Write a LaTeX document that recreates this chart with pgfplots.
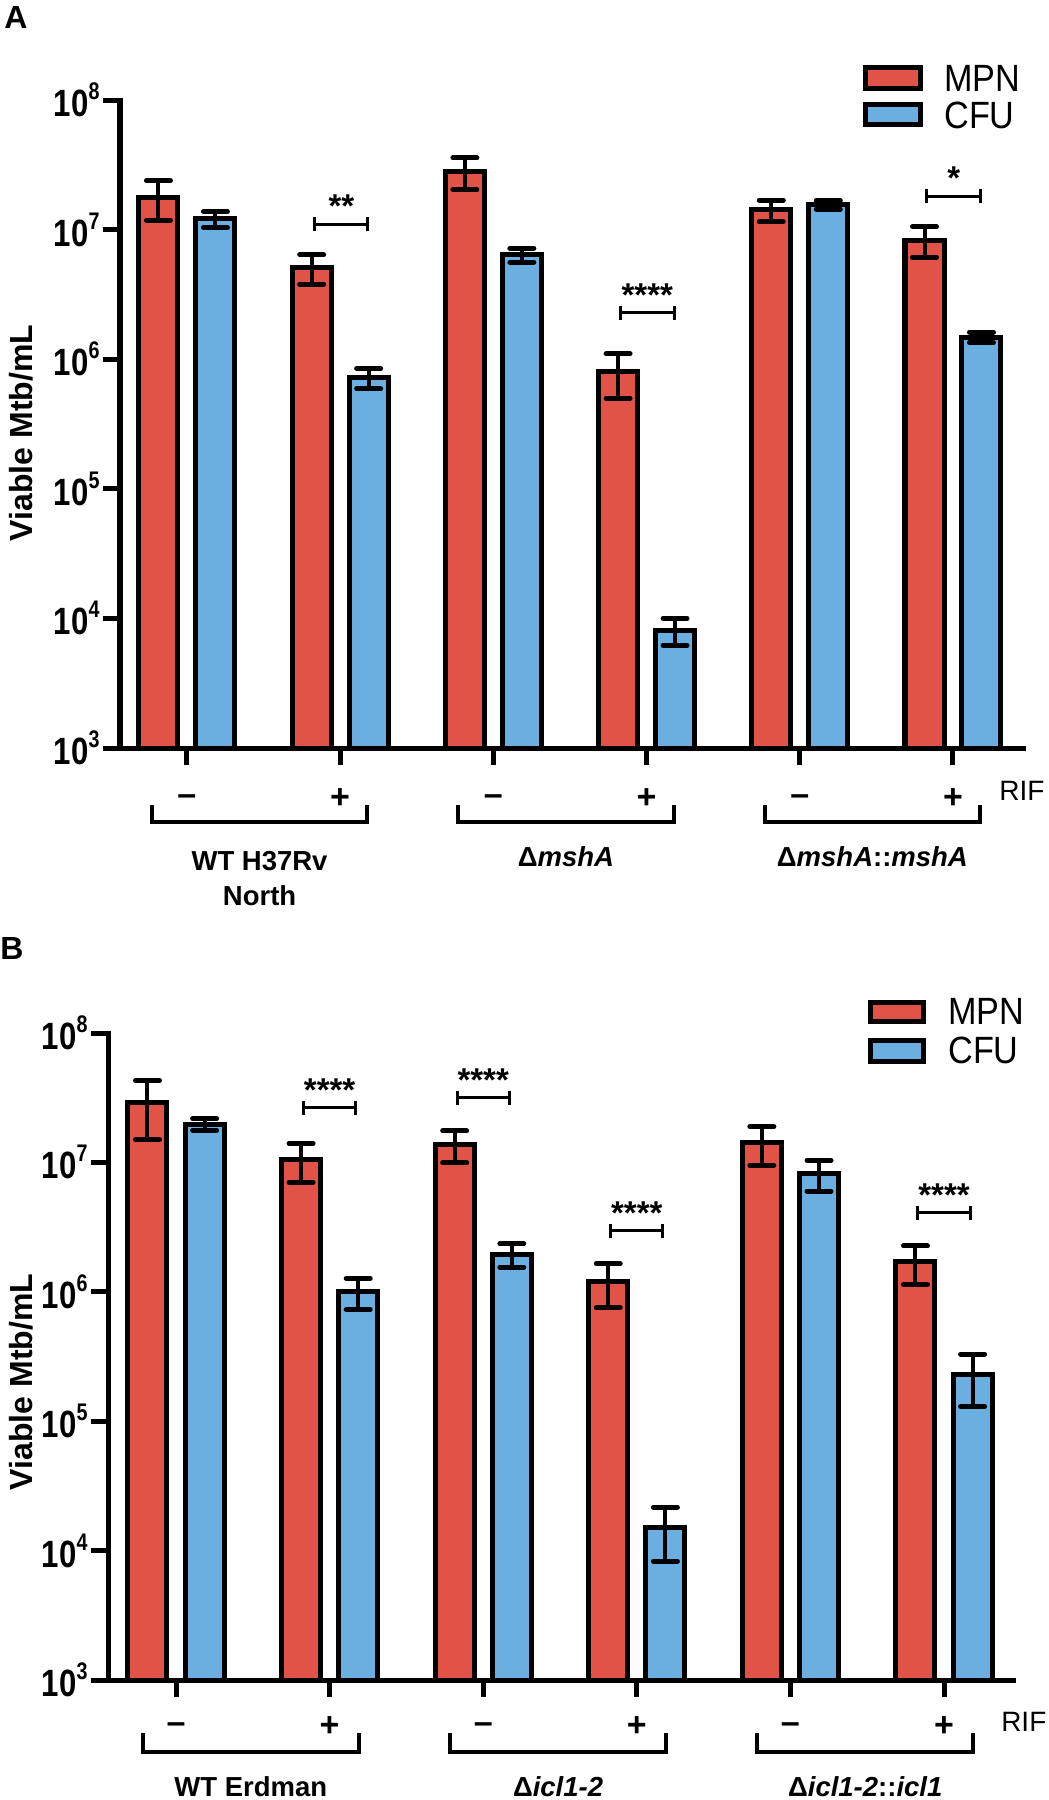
\documentclass[border=0pt]{standalone}
\usepackage{fontspec}
\setmainfont{Liberation Sans}
\newfontfamily\condfont{Liberation Sans}[FakeStretch=0.82]
\newfontfamily\legfont{Liberation Sans}[FakeStretch=0.9]
\usepackage{pgfplots}
\pgfplotsset{compat=1.18}
\definecolor{mpn}{HTML}{E15346}
\definecolor{cfu}{HTML}{6AAFDF}

\newcommand{\dec}[1]{10\raisebox{8.5pt}{\fontsize{12}{12}\selectfont #1}}
\newcommand{\sig}[5]{%
  \draw[line width=1.5pt] ([yshift=3.5pt]axis cs:#1,#3) -- ([yshift=-3.5pt]axis cs:#1,#3)
     (axis cs:#1,#3) -- (axis cs:#2,#3)
     ([yshift=3.5pt]axis cs:#2,#3) -- ([yshift=-3.5pt]axis cs:#2,#3);
  \node[font=\fontsize{16.5}{16.5}\selectfont\bfseries, anchor=base, inner sep=0pt] at ([yshift=3.2pt]axis cs:#4,#3) {#5};}
\newcommand{\ytl}[2]{\node[anchor=east, inner sep=0pt, font=\condfont\fontsize{19}{19}\selectfont\bfseries] at ([xshift=-10pt]axis cs:#1,1e#2) {\dec{#2}};}
\newcommand{\sgn}[3]{\node[anchor=base, inner sep=0pt, font=\fontsize{17}{17}\selectfont\bfseries] at ([yshift=#2]axis cs:#1,1e3) {#3};}

\pgfplotsset{
  errstyle/.style={error bars/.cd, y dir=both, y explicit,
    error bar style={line width=2pt, black},
    error mark=|,
    error mark options={line width=2.5pt, mark size=6pt, black, line cap=round}},
}

\begin{document}
\begin{tikzpicture}
\useasboundingbox (0,0) rectangle (524.5pt,-900pt);

% ---------------- Panel A ----------------
\begin{axis}[at={(60pt,-374pt)}, anchor=south west,
  scale only axis, width=451.5pt, height=324pt, xmin=-0.437, xmax=5.457,
  ymode=log, log origin=infty, ymin=1e3, ymax=1e8,
  axis x line=bottom, axis y line=left,
  axis line style={line width=2.5pt, -, line cap=rect},
  tick align=outside, major tick length=8.5pt,
  major tick style={line width=2.5pt, black},
  ytick={1e3,1e4,1e5,1e6,1e7,1e8}, yminorticks=false,
  xtick={0,1,2,3,4,5}, xticklabels={}, yticklabels={},
  clip=false]
\addplot[ybar, bar width=19.5pt, bar shift=0pt, fill=mpn, draw=black, line width=2.5pt, errstyle]
 table[x=x, y=y, y error=e] {
x y e
-0.186 1.78e7 0.60e7
0.814 5.1e6 1.3e6
1.814 2.8e7 0.77e7
2.814 8.0e5 3.0e5
3.814 1.42e7 0.27e7
4.814 8.3e6 2.2e6
};
\addplot[ybar, bar width=19.5pt, bar shift=0pt, fill=cfu, draw=black, line width=2.5pt, errstyle]
 table[x=x, y=y, y error=e] {
x y e
0.186 1.21e7 0.17e7
1.186 7.2e5 1.3e5
2.186 6.4e6 0.8e6
3.186 8.1e3 1.9e3
4.186 1.56e7 0.12e7
5.186 1.48e6 0.14e6
};
\sig{0.835}{1.181}{1.104e7}{1.008}{**}
\sig{2.83}{3.18}{2.275e6}{3.005}{****}
\sig{4.83}{5.18}{1.815e7}{5.005}{*}
\ytl{-0.437}{3}\ytl{-0.437}{4}\ytl{-0.437}{5}\ytl{-0.437}{6}\ytl{-0.437}{7}\ytl{-0.437}{8}
\sgn{0}{-28.5pt}{--}\sgn{2}{-28.5pt}{--}\sgn{4}{-28.5pt}{--}
\sgn{1}{-30pt}{+}\sgn{3}{-30pt}{+}\sgn{5}{-30pt}{+}
\draw[line width=2pt] ([yshift=-28.5pt]axis cs:-0.228,1e3) |- ([yshift=-37pt]axis cs:1.176,1e3) -- ([yshift=-28.5pt]axis cs:1.176,1e3);
\draw[line width=2pt] ([yshift=-28.5pt]axis cs:1.772,1e3) |- ([yshift=-37pt]axis cs:3.176,1e3) -- ([yshift=-28.5pt]axis cs:3.176,1e3);
\draw[line width=2pt] ([yshift=-28.5pt]axis cs:3.772,1e3) |- ([yshift=-37pt]axis cs:5.176,1e3) -- ([yshift=-28.5pt]axis cs:5.176,1e3);
\node[anchor=west, inner sep=0pt, font=\fontsize{14}{14}\selectfont] at ([yshift=-21.5pt]axis cs:5.30,1e3) {RIF};
\node[anchor=base, inner sep=0pt, font=\fontsize{13.75}{13.75}\selectfont\bfseries] at ([yshift=-61pt]axis cs:0.474,1e3) {WT H37Rv};
\node[anchor=base, inner sep=0pt, font=\fontsize{13.75}{13.75}\selectfont\bfseries] at ([yshift=-78.5pt]axis cs:0.474,1e3) {North};
\node[anchor=base, inner sep=0pt, font=\fontsize{13.75}{13.75}\selectfont\bfseries] at ([yshift=-59pt]axis cs:2.474,1e3) {Δ\textit{mshA}};
\node[anchor=base, inner sep=0pt, font=\fontsize{13.75}{13.75}\selectfont\bfseries] at ([yshift=-59pt]axis cs:4.474,1e3) {Δ\textit{mshA}::\textit{mshA}};
\end{axis}

\draw[line width=2.5pt, fill=mpn] (432.75pt,-33.75pt) rectangle (460.25pt,-44.25pt);
\draw[line width=2.5pt, fill=cfu] (432.75pt,-52.25pt) rectangle (460.25pt,-62.25pt);
\node[anchor=west, inner sep=0pt, font=\legfont\fontsize{19}{19}\selectfont] at (472pt,-39pt) {MPN};
\node[anchor=west, inner sep=0pt, font=\legfont\fontsize{19}{19}\selectfont] at (472pt,-57.5pt) {CFU};
\node[rotate=90, inner sep=0pt, font=\fontsize{16}{16}\selectfont\bfseries] at (10.75pt,-216.5pt) {Viable Mtb/mL};
\node[anchor=north west, inner sep=0pt, font=\fontsize{16}{16}\selectfont\bfseries] at (2pt,-3pt) {A};

% ---------------- Panel B ----------------
\begin{axis}[at={(54pt,-840pt)}, anchor=south west,
  scale only axis, width=452.5pt, height=323.5pt, xmin=-0.443, xmax=5.449,
  ymode=log, log origin=infty, ymin=1e3, ymax=1e8,
  axis x line=bottom, axis y line=left,
  axis line style={line width=2.5pt, -, line cap=rect},
  tick align=outside, major tick length=8.5pt,
  major tick style={line width=2.5pt, black},
  ytick={1e3,1e4,1e5,1e6,1e7,1e8}, yminorticks=false,
  xtick={0,1,2,3,4,5}, xticklabels={}, yticklabels={},
  clip=false]
\addplot[ybar, bar width=19.5pt, bar shift=0pt, fill=mpn, draw=black, line width=2.5pt, errstyle]
 table[x=x, y=y, y error=e] {
x y e
-0.186 2.9e7 1.4e7
0.814 1.05e7 3.5e6
1.814 1.37e7 3.8e6
2.814 1.2e6 4.5e5
3.814 1.42e7 4.7e6
4.814 1.7e6 5.6e5
};
\addplot[ybar, bar width=19.5pt, bar shift=0pt, fill=cfu, draw=black, line width=2.5pt, errstyle]
 table[x=x, y=y, y error=e] {
x y e
0.186 1.98e7 0.2e7
1.186 1.0e6 2.7e5
2.186 1.95e6 4.0e5
3.186 1.5e4 6.7e3
4.186 8.2e6 2.2e6
5.186 2.3e5 1.0e5
};
\sig{0.83}{1.17}{2.64e7}{1.0}{****}
\sig{1.83}{2.17}{3.15e7}{2.0}{****}
\sig{2.83}{3.17}{2.96e6}{3.0}{****}
\sig{4.83}{5.17}{4.07e6}{5.0}{****}
\ytl{-0.443}{3}\ytl{-0.443}{4}\ytl{-0.443}{5}\ytl{-0.443}{6}\ytl{-0.443}{7}\ytl{-0.443}{8}
\sgn{0}{-26.5pt}{--}\sgn{2}{-26.5pt}{--}\sgn{4}{-26.5pt}{--}
\sgn{1}{-28pt}{+}\sgn{3}{-28pt}{+}\sgn{5}{-28pt}{+}
\draw[line width=2pt] ([yshift=-26.5pt]axis cs:-0.215,1e3) |- ([yshift=-36pt]axis cs:1.19,1e3) -- ([yshift=-26.5pt]axis cs:1.19,1e3);
\draw[line width=2pt] ([yshift=-26.5pt]axis cs:1.785,1e3) |- ([yshift=-36pt]axis cs:3.19,1e3) -- ([yshift=-26.5pt]axis cs:3.19,1e3);
\draw[line width=2pt] ([yshift=-26.5pt]axis cs:3.785,1e3) |- ([yshift=-36pt]axis cs:5.19,1e3) -- ([yshift=-26.5pt]axis cs:5.19,1e3);
\node[anchor=west, inner sep=0pt, font=\fontsize{14}{14}\selectfont] at ([yshift=-21pt]axis cs:5.37,1e3) {RIF};
\node[anchor=base, inner sep=0pt, font=\fontsize{13.75}{13.75}\selectfont\bfseries] at ([yshift=-58pt]axis cs:0.487,1e3) {WT Erdman};
\node[anchor=base, inner sep=0pt, font=\fontsize{13.75}{13.75}\selectfont\bfseries] at ([yshift=-58pt]axis cs:2.487,1e3) {Δ\textit{icl1-2}};
\node[anchor=base, inner sep=0pt, font=\fontsize{13.75}{13.75}\selectfont\bfseries] at ([yshift=-58pt]axis cs:4.487,1e3) {Δ\textit{icl1-2}::\textit{icl1}};
\end{axis}

\draw[line width=2.5pt, fill=mpn] (435.25pt,-501.25pt) rectangle (461.75pt,-510.75pt);
\draw[line width=2.5pt, fill=cfu] (435.25pt,-520.25pt) rectangle (461.75pt,-530.75pt);
\node[anchor=west, inner sep=0pt, font=\legfont\fontsize{19}{19}\selectfont] at (474pt,-505.75pt) {MPN};
\node[anchor=west, inner sep=0pt, font=\legfont\fontsize{19}{19}\selectfont] at (474pt,-525pt) {CFU};
\node[rotate=90, inner sep=0pt, font=\fontsize{16}{16}\selectfont\bfseries] at (10.75pt,-691pt) {Viable Mtb/mL};
\node[anchor=north west, inner sep=0pt, font=\fontsize{16}{16}\selectfont\bfseries] at (0pt,-468.5pt) {B};
\end{tikzpicture}
\end{document}
